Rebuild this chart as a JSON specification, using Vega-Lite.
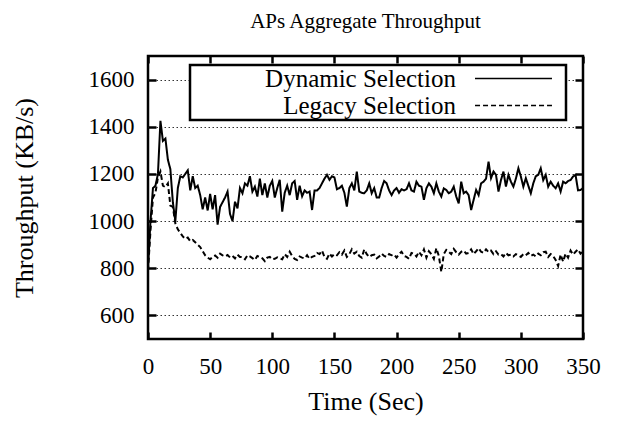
{
  "$schema": "https://vega.github.io/schema/vega-lite/v6.json",
  "width": 435,
  "height": 283,
  "autosize": {"type": "none"},
  "padding": {"left": 148, "top": 56, "right": 35, "bottom": 82},
  "background": "white",
  "config": {
    "font": "Liberation Serif",
    "view": {"stroke": "black", "strokeWidth": 2.5},
    "legend": {"strokeWidth": 2.5, "labelFont": "Liberation Serif"},
    "style": {"guide-label": {"font": "Liberation Serif"}, "guide-title": {"font": "Liberation Serif"}},
    "axis": {"labelColor": "black", "titleColor": "black", "tickColor": "black", "titleFontWeight": "normal", "labelFont": "Liberation Serif", "titleFont": "Liberation Serif"}
  },
  "title": {"text": "APs Aggregate Throughput", "fontSize": 21, "fontWeight": "normal", "color": "black", "font": "Liberation Serif", "baseline": "alphabetic", "offset": 6},
  "data": {"values": [
{"t":0,"Dynamic Selection":800,"Legacy Selection":790},
{"t":2,"Dynamic Selection":1000,"Legacy Selection":960},
{"t":4,"Dynamic Selection":1140,"Legacy Selection":1100},
{"t":6,"Dynamic Selection":1150,"Legacy Selection":1120},
{"t":8,"Dynamic Selection":1200,"Legacy Selection":1185},
{"t":10,"Dynamic Selection":1425,"Legacy Selection":1210},
{"t":12,"Dynamic Selection":1340,"Legacy Selection":1150},
{"t":14,"Dynamic Selection":1350,"Legacy Selection":1144},
{"t":16,"Dynamic Selection":1260,"Legacy Selection":1160},
{"t":18,"Dynamic Selection":1220,"Legacy Selection":1066},
{"t":20,"Dynamic Selection":1080,"Legacy Selection":1060},
{"t":22,"Dynamic Selection":1000,"Legacy Selection":990},
{"t":24,"Dynamic Selection":1140,"Legacy Selection":965},
{"t":26,"Dynamic Selection":1190,"Legacy Selection":950},
{"t":28,"Dynamic Selection":1185,"Legacy Selection":935},
{"t":30,"Dynamic Selection":1200,"Legacy Selection":925},
{"t":32,"Dynamic Selection":1215,"Legacy Selection":930},
{"t":34,"Dynamic Selection":1130,"Legacy Selection":915},
{"t":36,"Dynamic Selection":1190,"Legacy Selection":920},
{"t":38,"Dynamic Selection":1140,"Legacy Selection":910},
{"t":40,"Dynamic Selection":1150,"Legacy Selection":900},
{"t":42,"Dynamic Selection":1110,"Legacy Selection":890},
{"t":44,"Dynamic Selection":1050,"Legacy Selection":872},
{"t":46,"Dynamic Selection":1100,"Legacy Selection":855},
{"t":48,"Dynamic Selection":1045,"Legacy Selection":845},
{"t":50,"Dynamic Selection":1115,"Legacy Selection":838},
{"t":52,"Dynamic Selection":1050,"Legacy Selection":848},
{"t":54,"Dynamic Selection":1110,"Legacy Selection":854},
{"t":56,"Dynamic Selection":985,"Legacy Selection":845},
{"t":58,"Dynamic Selection":1060,"Legacy Selection":862},
{"t":60,"Dynamic Selection":1080,"Legacy Selection":855},
{"t":62,"Dynamic Selection":1100,"Legacy Selection":850},
{"t":64,"Dynamic Selection":1125,"Legacy Selection":856},
{"t":66,"Dynamic Selection":1030,"Legacy Selection":846},
{"t":68,"Dynamic Selection":1000,"Legacy Selection":852},
{"t":70,"Dynamic Selection":1082,"Legacy Selection":842},
{"t":72,"Dynamic Selection":1054,"Legacy Selection":858},
{"t":74,"Dynamic Selection":1140,"Legacy Selection":848},
{"t":76,"Dynamic Selection":1118,"Legacy Selection":847},
{"t":78,"Dynamic Selection":1160,"Legacy Selection":838},
{"t":80,"Dynamic Selection":1150,"Legacy Selection":855},
{"t":82,"Dynamic Selection":1190,"Legacy Selection":850},
{"t":84,"Dynamic Selection":1125,"Legacy Selection":843},
{"t":86,"Dynamic Selection":1146,"Legacy Selection":835},
{"t":88,"Dynamic Selection":1104,"Legacy Selection":852},
{"t":90,"Dynamic Selection":1180,"Legacy Selection":848},
{"t":92,"Dynamic Selection":1110,"Legacy Selection":842},
{"t":94,"Dynamic Selection":1160,"Legacy Selection":830},
{"t":96,"Dynamic Selection":1100,"Legacy Selection":845},
{"t":98,"Dynamic Selection":1150,"Legacy Selection":848},
{"t":100,"Dynamic Selection":1170,"Legacy Selection":838},
{"t":102,"Dynamic Selection":1100,"Legacy Selection":840},
{"t":104,"Dynamic Selection":1140,"Legacy Selection":846},
{"t":106,"Dynamic Selection":1175,"Legacy Selection":841},
{"t":108,"Dynamic Selection":1040,"Legacy Selection":838},
{"t":110,"Dynamic Selection":1120,"Legacy Selection":860},
{"t":112,"Dynamic Selection":1150,"Legacy Selection":848},
{"t":114,"Dynamic Selection":1110,"Legacy Selection":870},
{"t":116,"Dynamic Selection":1160,"Legacy Selection":852},
{"t":118,"Dynamic Selection":1170,"Legacy Selection":840},
{"t":120,"Dynamic Selection":1090,"Legacy Selection":835},
{"t":122,"Dynamic Selection":1150,"Legacy Selection":850},
{"t":124,"Dynamic Selection":1105,"Legacy Selection":845},
{"t":126,"Dynamic Selection":1130,"Legacy Selection":842},
{"t":128,"Dynamic Selection":1120,"Legacy Selection":855},
{"t":130,"Dynamic Selection":1125,"Legacy Selection":840},
{"t":132,"Dynamic Selection":1047,"Legacy Selection":848},
{"t":134,"Dynamic Selection":1130,"Legacy Selection":852},
{"t":136,"Dynamic Selection":1130,"Legacy Selection":865},
{"t":138,"Dynamic Selection":1140,"Legacy Selection":860},
{"t":140,"Dynamic Selection":1160,"Legacy Selection":875},
{"t":142,"Dynamic Selection":1180,"Legacy Selection":848},
{"t":144,"Dynamic Selection":1196,"Legacy Selection":840},
{"t":146,"Dynamic Selection":1175,"Legacy Selection":862},
{"t":148,"Dynamic Selection":1190,"Legacy Selection":850},
{"t":150,"Dynamic Selection":1185,"Legacy Selection":860},
{"t":152,"Dynamic Selection":1135,"Legacy Selection":855},
{"t":154,"Dynamic Selection":1140,"Legacy Selection":868},
{"t":156,"Dynamic Selection":1150,"Legacy Selection":858},
{"t":158,"Dynamic Selection":1120,"Legacy Selection":875},
{"t":160,"Dynamic Selection":1061,"Legacy Selection":848},
{"t":162,"Dynamic Selection":1140,"Legacy Selection":860},
{"t":164,"Dynamic Selection":1160,"Legacy Selection":880},
{"t":166,"Dynamic Selection":1130,"Legacy Selection":862},
{"t":168,"Dynamic Selection":1210,"Legacy Selection":870},
{"t":170,"Dynamic Selection":1125,"Legacy Selection":852},
{"t":172,"Dynamic Selection":1120,"Legacy Selection":845},
{"t":174,"Dynamic Selection":1118,"Legacy Selection":880},
{"t":176,"Dynamic Selection":1130,"Legacy Selection":860},
{"t":178,"Dynamic Selection":1160,"Legacy Selection":848},
{"t":180,"Dynamic Selection":1118,"Legacy Selection":855},
{"t":182,"Dynamic Selection":1140,"Legacy Selection":858},
{"t":184,"Dynamic Selection":1100,"Legacy Selection":842},
{"t":186,"Dynamic Selection":1100,"Legacy Selection":850},
{"t":188,"Dynamic Selection":1140,"Legacy Selection":862},
{"t":190,"Dynamic Selection":1170,"Legacy Selection":852},
{"t":192,"Dynamic Selection":1160,"Legacy Selection":848},
{"t":194,"Dynamic Selection":1130,"Legacy Selection":860},
{"t":196,"Dynamic Selection":1110,"Legacy Selection":855},
{"t":198,"Dynamic Selection":1130,"Legacy Selection":858},
{"t":200,"Dynamic Selection":1140,"Legacy Selection":845},
{"t":202,"Dynamic Selection":1120,"Legacy Selection":860},
{"t":204,"Dynamic Selection":1135,"Legacy Selection":870},
{"t":206,"Dynamic Selection":1130,"Legacy Selection":852},
{"t":208,"Dynamic Selection":1135,"Legacy Selection":848},
{"t":210,"Dynamic Selection":1160,"Legacy Selection":840},
{"t":212,"Dynamic Selection":1130,"Legacy Selection":865},
{"t":214,"Dynamic Selection":1125,"Legacy Selection":862},
{"t":216,"Dynamic Selection":1167,"Legacy Selection":850},
{"t":218,"Dynamic Selection":1150,"Legacy Selection":870},
{"t":220,"Dynamic Selection":1146,"Legacy Selection":855},
{"t":222,"Dynamic Selection":1090,"Legacy Selection":880},
{"t":224,"Dynamic Selection":1139,"Legacy Selection":845},
{"t":226,"Dynamic Selection":1160,"Legacy Selection":872},
{"t":228,"Dynamic Selection":1146,"Legacy Selection":860},
{"t":230,"Dynamic Selection":1118,"Legacy Selection":840},
{"t":232,"Dynamic Selection":1160,"Legacy Selection":885},
{"t":234,"Dynamic Selection":1125,"Legacy Selection":852},
{"t":236,"Dynamic Selection":1104,"Legacy Selection":785},
{"t":238,"Dynamic Selection":1139,"Legacy Selection":860},
{"t":240,"Dynamic Selection":1132,"Legacy Selection":878},
{"t":242,"Dynamic Selection":1118,"Legacy Selection":870},
{"t":244,"Dynamic Selection":1125,"Legacy Selection":860},
{"t":246,"Dynamic Selection":1146,"Legacy Selection":882},
{"t":248,"Dynamic Selection":1104,"Legacy Selection":868},
{"t":250,"Dynamic Selection":1075,"Legacy Selection":858},
{"t":252,"Dynamic Selection":1167,"Legacy Selection":870},
{"t":254,"Dynamic Selection":1118,"Legacy Selection":875},
{"t":256,"Dynamic Selection":1125,"Legacy Selection":862},
{"t":258,"Dynamic Selection":1110,"Legacy Selection":865},
{"t":260,"Dynamic Selection":1047,"Legacy Selection":880},
{"t":262,"Dynamic Selection":1090,"Legacy Selection":860},
{"t":264,"Dynamic Selection":1132,"Legacy Selection":872},
{"t":266,"Dynamic Selection":1110,"Legacy Selection":885},
{"t":268,"Dynamic Selection":1160,"Legacy Selection":870},
{"t":270,"Dynamic Selection":1167,"Legacy Selection":865},
{"t":272,"Dynamic Selection":1180,"Legacy Selection":880},
{"t":274,"Dynamic Selection":1252,"Legacy Selection":868},
{"t":276,"Dynamic Selection":1182,"Legacy Selection":875},
{"t":278,"Dynamic Selection":1210,"Legacy Selection":860},
{"t":280,"Dynamic Selection":1196,"Legacy Selection":872},
{"t":282,"Dynamic Selection":1125,"Legacy Selection":858},
{"t":284,"Dynamic Selection":1174,"Legacy Selection":860},
{"t":286,"Dynamic Selection":1210,"Legacy Selection":850},
{"t":288,"Dynamic Selection":1146,"Legacy Selection":865},
{"t":290,"Dynamic Selection":1196,"Legacy Selection":855},
{"t":292,"Dynamic Selection":1167,"Legacy Selection":858},
{"t":294,"Dynamic Selection":1146,"Legacy Selection":850},
{"t":296,"Dynamic Selection":1180,"Legacy Selection":860},
{"t":298,"Dynamic Selection":1224,"Legacy Selection":855},
{"t":300,"Dynamic Selection":1189,"Legacy Selection":848},
{"t":302,"Dynamic Selection":1146,"Legacy Selection":860},
{"t":304,"Dynamic Selection":1182,"Legacy Selection":855},
{"t":306,"Dynamic Selection":1150,"Legacy Selection":865},
{"t":308,"Dynamic Selection":1118,"Legacy Selection":852},
{"t":310,"Dynamic Selection":1160,"Legacy Selection":858},
{"t":312,"Dynamic Selection":1190,"Legacy Selection":850},
{"t":314,"Dynamic Selection":1196,"Legacy Selection":862},
{"t":316,"Dynamic Selection":1224,"Legacy Selection":855},
{"t":318,"Dynamic Selection":1174,"Legacy Selection":868},
{"t":320,"Dynamic Selection":1196,"Legacy Selection":870},
{"t":322,"Dynamic Selection":1146,"Legacy Selection":848},
{"t":324,"Dynamic Selection":1167,"Legacy Selection":860},
{"t":326,"Dynamic Selection":1150,"Legacy Selection":852},
{"t":328,"Dynamic Selection":1139,"Legacy Selection":835},
{"t":330,"Dynamic Selection":1160,"Legacy Selection":810},
{"t":332,"Dynamic Selection":1125,"Legacy Selection":858},
{"t":334,"Dynamic Selection":1167,"Legacy Selection":828},
{"t":336,"Dynamic Selection":1160,"Legacy Selection":862},
{"t":338,"Dynamic Selection":1170,"Legacy Selection":845},
{"t":340,"Dynamic Selection":1174,"Legacy Selection":875},
{"t":342,"Dynamic Selection":1189,"Legacy Selection":858},
{"t":344,"Dynamic Selection":1196,"Legacy Selection":870},
{"t":346,"Dynamic Selection":1130,"Legacy Selection":880},
{"t":348,"Dynamic Selection":1132,"Legacy Selection":862},
{"t":350,"Dynamic Selection":1140,"Legacy Selection":872}
  ]},
  "transform": [{"fold": ["Dynamic Selection", "Legacy Selection"], "as": ["series", "value"]}],
  "layer": [
    {
      "mark": {"type": "line", "color": "black", "strokeWidth": 2, "clip": true},
      "encoding": {
        "x": {"field": "t", "type": "quantitative", "scale": {"domain": [0, 350], "nice": false},
          "axis": {"orient": "bottom", "values": [0, 50, 100, 150, 200, 250, 300, 350], "grid": false, "domain": false, "tickSize": -7, "tickWidth": 2.5, "labelFontSize": 23, "labelPadding": 23, "labelFlush": false, "title": "Time (Sec)", "titleFontSize": 26, "titlePadding": 10}},
        "y": {"field": "value", "type": "quantitative", "scale": {"domain": [500, 1700], "nice": false, "zero": false},
          "axis": {"orient": "left", "values": [600, 800, 1000, 1200, 1400, 1600], "format": "d", "grid": true, "gridDash": [1.5, 2.5], "gridColor": "#333333", "gridWidth": 1, "domain": false, "tickSize": -8, "tickWidth": 2.5, "labelFontSize": 23, "labelPadding": 22, "title": "Throughput (KB/s)", "titleFontSize": 26, "titlePadding": 51}},
        "strokeDash": {"field": "series", "type": "nominal",
          "scale": {"domain": ["Dynamic Selection", "Legacy Selection"], "range": [[1, 0], [5, 3]]},
          "legend": {"title": null, "orient": "none", "legendX": 42, "legendY": 9, "padding": 1, "rowPadding": 1,
            "fillColor": "white", "strokeColor": "black",
            "labelFont": "Liberation Serif", "labelFontSize": 25, "labelAlign": "right", "labelColor": "black", "labelOffset": -70, "labelLimit": 0,
            "symbolType": "M-4,0H4M5.0,0", "symbolSize": 370, "symbolOffset": 310,
            "symbolStrokeColor": "black", "symbolFillColor": "transparent", "symbolStrokeWidth": 1.5,
            "encode": {
              "legend": {"update": {"strokeWidth": {"value": 2.5}}},
              "labels": {"update": {"font": {"value": "Liberation Serif"}, "fontSize": {"value": 25}}}
            }}}
      }
    },
    {
      "mark": {"type": "line", "strokeOpacity": 0},
      "encoding": {
        "x": {"field": "t", "type": "quantitative",
          "axis": {"orient": "top", "values": [0, 50, 100, 150, 200, 250, 300, 350], "labels": false, "grid": false, "domain": false, "tickSize": -7, "tickWidth": 2.5, "title": null}},
        "y": {"field": "value", "type": "quantitative",
          "axis": {"orient": "right", "values": [600, 800, 1000, 1200, 1400, 1600], "labels": false, "grid": false, "domain": false, "tickSize": -8, "tickWidth": 2.5, "title": null}},
        "detail": {"field": "series"}
      }
    }
  ],
  "resolve": {"axis": {"x": "independent", "y": "independent"}}
}
